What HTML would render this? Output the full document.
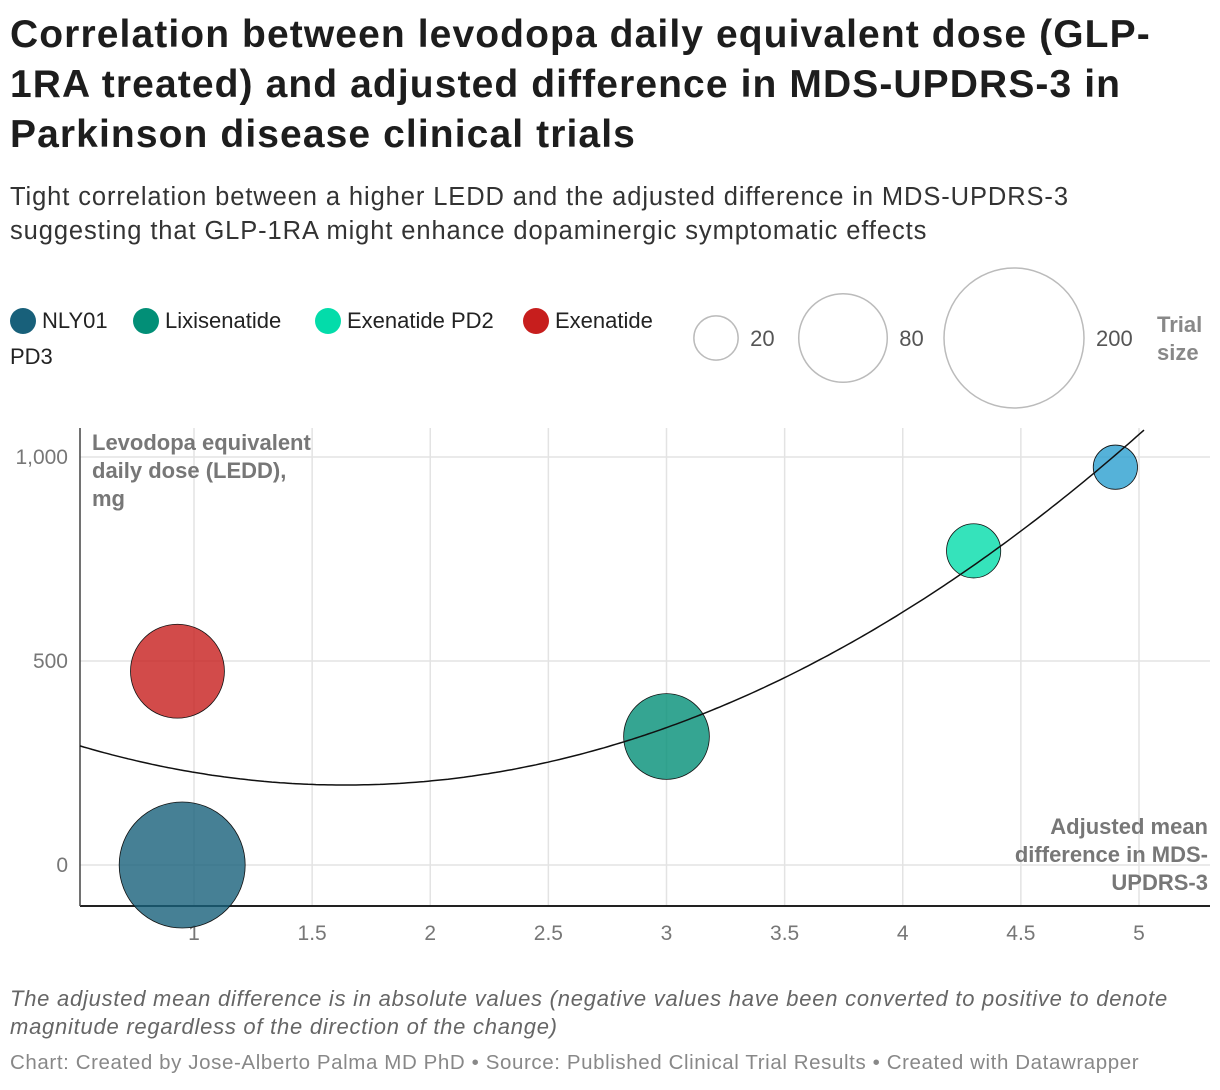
<!DOCTYPE html>
<html><head><meta charset="utf-8"><style>
body{margin:0;background:#fff;font-family:"Liberation Sans",sans-serif;width:1220px;height:1090px;overflow:hidden;position:relative;color:#1d1d1d}
.t{position:absolute;left:10px;top:10px;font-size:39px;font-weight:bold;line-height:50px;width:1210px;white-space:nowrap;letter-spacing:1.1px}
.s{position:absolute;left:10px;top:180px;font-size:25.5px;line-height:34px;color:#333;letter-spacing:0.9px;white-space:nowrap}
.lg{position:absolute;font-size:22px;color:#222;white-space:nowrap}
.dot{display:inline-block;width:26px;height:26px;border-radius:50%;vertical-align:-6px;margin-right:6px}
.n{position:absolute;left:10px;top:985px;font-size:22px;font-style:italic;color:#666;line-height:28px;letter-spacing:0.75px;white-space:nowrap}
.c{position:absolute;left:10px;top:1051px;font-size:20.5px;color:#888;letter-spacing:0.6px;white-space:nowrap}
</style></head><body>
<div class="t">Correlation between levodopa daily equivalent dose (GLP-<br>1RA treated) and adjusted difference in MDS-UPDRS-3 in<br>Parkinson disease clinical trials</div>
<div class="s">Tight correlation between a higher LEDD and the adjusted difference in MDS-UPDRS-3<br>suggesting that GLP-1RA might enhance dopaminergic symptomatic effects</div>
<div class="lg" style="left:10px;top:308px"><span class="dot" style="background:#18607a"></span>NLY01</div>
<div class="lg" style="left:133px;top:308px"><span class="dot" style="background:#028f77"></span>Lixisenatide</div>
<div class="lg" style="left:315px;top:308px"><span class="dot" style="background:#03dcaa"></span>Exenatide PD2</div>
<div class="lg" style="left:523px;top:308px"><span class="dot" style="background:#c71e1d"></span>Exenatide</div>
<div class="lg" style="left:10px;top:344px">PD3</div>
<svg id="ch" width="1220" height="1090" style="position:absolute;left:0;top:0"></svg>
<div class="n">The adjusted mean difference is in absolute values (negative values have been converted to positive to denote<br>magnitude regardless of the direction of the change)</div>
<div class="c">Chart: Created by Jose-Alberto Palma MD PhD • Source: Published Clinical Trial Results • Created with Datawrapper</div>
<script>
const names=["NLY01","Exenatide PD3","Lixisenatide","Exenatide PD2","Other"];
const xVals=[0.95,0.93,3,4.3,4.9];
const yVals=[0,475,315,770,975];
const sizes=[162,90,75,30,20];
const colors=["#18607a","#c71e1d","#028f77","#03dcaa","#2a9fd0"];
const xTicks=[1,1.5,2,2.5,3,3.5,4,4.5,5];
const xTickLabels=["1","1.5","2","2.5","3","3.5","4","4.5","5"];
const yTicks=[0,500,1000];
const yTickLabels=["0","500","1,000"];
const legendSizes=[20,80,200];
const trend=[76.1,1.64,196];
const NS="http://www.w3.org/2000/svg";
const svg=document.getElementById('ch');
const X=v=>194+(v-1)*236.25, Y=v=>865-v*0.408, R=n=>4.95*Math.sqrt(n);
function mk(t,a,p){const e=document.createElementNS(NS,t);for(const k in a)e.setAttribute(k,a[k]);(p||svg).appendChild(e);return e;}
xTicks.forEach((t,i)=>{
 const l=mk('line',{x1:X(t),x2:X(t),y1:428,y2:906,stroke:'#e3e3e3','stroke-width':1.5});
 
 
 const tx=mk('text',{x:X(t),y:940,'text-anchor':'middle','font-size':21,fill:'#777'});tx.textContent=xTickLabels[i];
 
 
});
yTicks.forEach((t,i)=>{
 const l=mk('line',{x1:80,x2:1210,y1:Y(t),y2:Y(t),stroke:'#e3e3e3','stroke-width':1.5});
 
 
 const tx=mk('text',{x:68,y:Y(t)+7,'text-anchor':'end','font-size':21,fill:'#777'});tx.textContent=yTickLabels[i];
 
 
});
const ax=mk('line',{x1:80,x2:1210,y1:906,y2:906,stroke:'#222','stroke-width':2});


const ay=mk('line',{x1:80,x2:80,y1:428,y2:906,stroke:'#444','stroke-width':1.5});


xVals.forEach((x,i)=>{
 const c=mk('circle',{cx:X(x),cy:Y(yVals[i]),r:R(sizes[i]),fill:colors[i],'fill-opacity':0.8,stroke:'#111','stroke-width':0.8});
 
 
});
let d='';for(let px=80;px<=1146;px+=4){const x=1+(px-194)/236.25;const y=trend[0]*(x-trend[1])**2+trend[2];d+=(d?'L':'M')+px+','+Y(y).toFixed(1);}
const tr=mk('path',{d:d,fill:'none',stroke:'#111','stroke-width':1.5});


const lx=[716,843,1014];
legendSizes.forEach((s,i)=>{
 const r=R(s);
 const c=mk('circle',{cx:lx[i],cy:338,r:r,fill:'none',stroke:'#bbb','stroke-width':1.5});
 
 
 const t=mk('text',{x:lx[i]+r+12,y:346,'font-size':22,fill:'#555'});t.textContent=s;
 
 
});
[["Trial",332],["size",360]].forEach(([s,y])=>{const t=mk('text',{x:1157,y:y,'font-size':22,'font-weight':'bold',fill:'#888'});t.textContent=s;
 
 });
[["Levodopa equivalent",450],["daily dose (LEDD),",478],["mg",506]].forEach(([s,y])=>{const t=mk('text',{x:92,y:y,'font-size':22,'font-weight':'bold',fill:'#777'});t.textContent=s;
 
 });
[["Adjusted mean",834],["difference in MDS-",862],["UPDRS-3",890]].forEach(([s,y])=>{const t=mk('text',{x:1208,y:y,'text-anchor':'end','font-size':22,'font-weight':'bold',fill:'#777'});t.textContent=s;
 
 });
</script>
</body></html>
